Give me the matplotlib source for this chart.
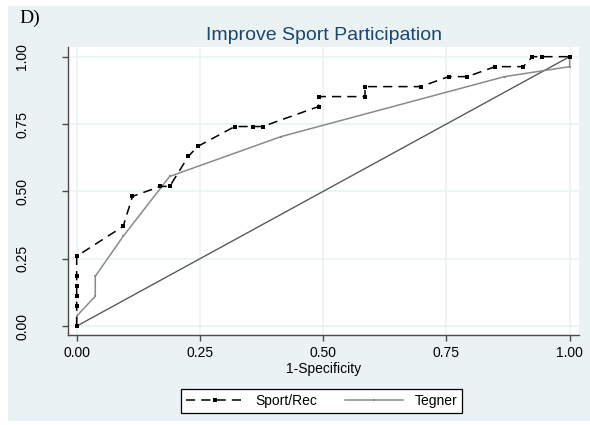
import matplotlib.pyplot as plt
from matplotlib.patches import Rectangle
import numpy as np

# ROC points (counts over 53 negatives / 27 positives)
n_neg = 53
n_pos = 27
sport_fp = [0, 0, 0, 0, 0, 0, 5, 6, 9, 10, 12, 13, 17, 19, 20, 26, 26, 31, 31, 37, 40, 42, 45, 48, 49, 50, 53]
sport_tp = [0, 2, 3, 4, 5, 7, 10, 13, 14, 14, 17, 18, 20, 20, 20, 22, 23, 23, 24, 24, 25, 25, 26, 26, 27, 27, 27]
tegner_fp = [0, 0, 2, 2, 5, 10, 22, 46, 53, 53]
tegner_tp = [0, 1, 3, 5, 9, 15, 19, 25, 26, 27]
ticks = [0.0, 0.25, 0.5, 0.75, 1.0]
tick_labels = ['0.00', '0.25', '0.50', '0.75', '1.00']

bg = '#EAF2F3'
plt.rcParams['font.family'] = ['Liberation Sans', 'DejaVu Sans']

fig = plt.figure(figsize=(5.9, 4.25), dpi=100)
fig.patch.set_facecolor('white')
# stata-ish graph region, inset a little from the white border
fig.add_artist(Rectangle((8/590, 4/425), 1 - 8/590, 1 - 10/425,
                         transform=fig.transFigure, facecolor=bg,
                         edgecolor='none', zorder=-10))

ax = fig.add_axes([68.3/590, 1 - 335/425, (579 - 68.3)/590, (335 - 46.7)/425])
ax.set_zorder(1)
ax.set_facecolor('white')

sx = np.array(sport_fp) / n_neg
sy = np.array(sport_tp) / n_pos
tx = np.array(tegner_fp) / n_neg
ty = np.array(tegner_tp) / n_pos

ax.plot([0, 1], [0, 1], color='#5a5a5a', lw=1.0, zorder=2)
ax.plot(tx, ty, color='#8a8a8a', lw=1.1, marker='s', markersize=2,
        markeredgewidth=0, label='Tegner', zorder=3)
ax.plot(sx, sy, color='black', lw=1.1, ls=(0, (6, 4)), marker='s',
        markersize=2.8, markeredgewidth=0, label='Sport/Rec', zorder=4)

ax.set_xlim(-0.017, 1.019)
ax.set_ylim(-0.033, 1.037)
ax.set_xticks(ticks)
ax.set_xticklabels(tick_labels)
ax.set_yticks(ticks)
ax.set_yticklabels(tick_labels, rotation=90, va='center')
ax.grid(True, color=bg, lw=1.2, zorder=0)
ax.set_axisbelow(True)

for s in ['top', 'right']:
    ax.spines[s].set_visible(False)
for s in ['left', 'bottom']:
    ax.spines[s].set_color('#4a4a4a')
    ax.spines[s].set_linewidth(1.0)
ax.tick_params(axis='both', length=4, width=1, color='#4a4a4a', labelsize=10)
ax.tick_params(axis='y', pad=24)
ax.tick_params(axis='x', pad=4)

ax.set_xlabel('1-Specificity', fontsize=10, labelpad=1)
ax.set_title('Improve Sport Participation', fontsize=14, color='#1A476F', pad=5)

fig.text(19/590, 1 - 18/425, 'D)', family=['Liberation Serif', 'DejaVu Serif'],
         fontsize=14, va='center', ha='left')

h, l = ax.get_legend_handles_labels()
leg = fig.legend(h[::-1], l[::-1], loc='center', bbox_to_anchor=(321.5/590, 1 - 401/425),
                 ncol=2, fontsize=10, frameon=True, fancybox=False,
                 edgecolor='black', framealpha=1, handlelength=4.2,
                 columnspacing=2.0, borderpad=0.35, handletextpad=0.8)
leg.get_frame().set_linewidth(0.9)

fig.savefig('out.png', dpi=100, facecolor=fig.get_facecolor())
